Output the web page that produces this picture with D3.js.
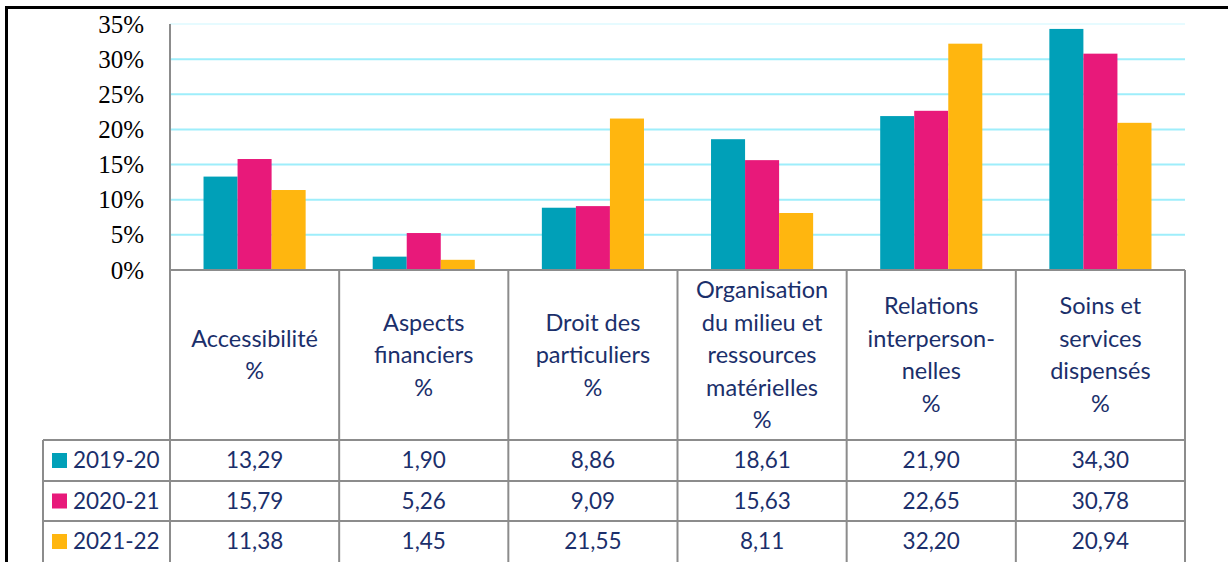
<!DOCTYPE html>
<html>
<head>
<meta charset="utf-8">
<script src="https://cdn.jsdelivr.net/npm/d3@7"></script>
<style>
  body { margin: 0; background: #fff; }
  svg { display: block; }
</style>
</head>
<body>
<div id="chart"></div>
<script>
// Categories (header lines of the data table)
const categories = [
    ["Accessibilité", "%"],
    ["Aspects", "financiers", "%"],
    ["Droit des", "particuliers", "%"],
    ["Organisation", "du milieu et", "ressources", "matérielles", "%"],
    ["Relations", "interperson-", "nelles", "%"],
    ["Soins et", "services", "dispensés", "%"]
];
const seasons = ["2019-20", "2020-21", "2021-22"];
const values2019 = [13.29, 1.90, 8.86, 18.61, 21.90, 34.30];
const values2020 = [15.79, 5.26, 9.09, 15.63, 22.65, 30.78];
const values2021 = [11.38, 1.45, 21.55, 8.11, 32.20, 20.94];
const yTicks = [0, 5, 10, 15, 20, 25, 30, 35];
const seasonColors = ["#00a0b8", "#e8197a", "#ffb60f"];

const series = [values2019, values2020, values2021];

const width = 1228, height = 562;
const plot = { left: 170, right: 1185, top: 24, bottom: 270 };
const rowTops = [440, 481, 521, 562];
const legendLeft = 43;
const textColor = "#1b2f6b";
const lineColor = "#8c8c8c";
const tableFont = "Lato, 'Open Sans', sans-serif";
const tableSize = "22.5px";
const headerSize = "23.5px";

const svg = d3.select("#chart").append("svg")
    .attr("width", width)
    .attr("height", height);

svg.append("rect").attr("width", width).attr("height", height).attr("fill", "#fff");

// Scales
const x = d3.scaleBand()
    .domain(d3.range(categories.length))
    .range([plot.left, plot.right]);

const xs = d3.scaleBand()
    .domain(seasons)
    .range([0, x.bandwidth()])
    .paddingOuter(0.985);

const y = d3.scaleLinear()
    .domain([0, 35])
    .range([plot.bottom, plot.top]);

// Gridlines
svg.append("g")
    .selectAll("line")
    .data(yTicks.filter(t => t > 0))
    .join("line")
    .attr("x1", plot.left)
    .attr("x2", plot.right)
    .attr("y1", d => y(d))
    .attr("y2", d => y(d))
    .attr("stroke", d => d === 35 ? "#e6fbff" : "#9eeefb")
    .attr("stroke-width", 2);

// Y axis labels
const yAxis = svg.append("g")
    .attr("transform", `translate(${plot.left},0)`)
    .call(d3.axisLeft(y).tickValues(yTicks).tickSize(0).tickPadding(26).tickFormat(d => d + "%"));
yAxis.select(".domain").remove();
yAxis.selectAll("text")
    .attr("fill", "#000")
    .attr("font-family", "'Liberation Serif', 'DejaVu Serif', serif")
    .attr("font-size", "25px");

// Bars
svg.append("g")
    .selectAll("g")
    .data(series)
    .join("g")
    .attr("fill", (d, i) => seasonColors[i])
    .each(function(vals, si) {
        d3.select(this).selectAll("rect")
            .data(vals)
            .join("rect")
            .attr("x", (d, ci) => x(ci) + xs(seasons[si]))
            .attr("width", xs.bandwidth())
            .attr("y", d => y(d))
            .attr("height", d => y(0) - y(d));
    });

// Table lines
const lines = svg.append("g").attr("stroke", lineColor).attr("stroke-width", 2);

// axis baseline
lines.append("line")
    .attr("x1", plot.left).attr("x2", plot.right)
    .attr("y1", plot.bottom).attr("y2", plot.bottom);

// value axis line
lines.append("line")
    .attr("x1", plot.left).attr("x2", plot.left)
    .attr("y1", plot.top).attr("y2", height);

// column separators
lines.selectAll(".col")
    .data(d3.range(1, categories.length + 1))
    .join("line")
    .attr("x1", d => x(d - 1) + x.bandwidth())
    .attr("x2", d => x(d - 1) + x.bandwidth())
    .attr("y1", plot.bottom)
    .attr("y2", height);

// row separators
lines.selectAll(".row")
    .data(rowTops.slice(0, 3))
    .join("line")
    .attr("x1", legendLeft).attr("x2", plot.right)
    .attr("y1", d => d).attr("y2", d => d);

lines.append("line")
    .attr("x1", legendLeft).attr("x2", legendLeft)
    .attr("y1", rowTops[0]).attr("y2", height);

// Header text
const headerMid = (plot.bottom + rowTops[0]) / 2;
const lineH = 32.5;
svg.append("g")
    .selectAll("text")
    .data(categories)
    .join("text")
    .attr("text-anchor", "middle")
    .attr("fill", textColor)
    .attr("font-family", tableFont)
    .attr("font-size", headerSize)
    .each(function(lines, ci) {
        const start = headerMid - (lines.length - 1) * lineH / 2;
        d3.select(this).selectAll("tspan")
            .data(lines)
            .join("tspan")
            .attr("x", x(ci) + x.bandwidth() / 2)
            .attr("y", (d, li) => start + li * lineH)
            .attr("dy", "0.35em")
            .text(d => d);
    });

// Data rows
const rows = svg.append("g")
    .selectAll("g")
    .data(series)
    .join("g");

rows.each(function(vals, si) {
    const g = d3.select(this);
    const mid = (rowTops[si] + rowTops[si + 1]) / 2;
    g.append("rect")
        .attr("x", 52).attr("y", mid - 7.5)
        .attr("width", 15).attr("height", 15)
        .attr("fill", seasonColors[si]);
    g.append("text")
        .attr("x", 73).attr("y", mid).attr("dy", "0.35em")
        .attr("fill", textColor)
        .attr("font-family", tableFont)
        .attr("font-size", tableSize)
        .text(seasons[si]);
    g.selectAll(".val")
        .data(vals)
        .join("text")
        .attr("x", (d, ci) => x(ci) + x.bandwidth() / 2)
        .attr("y", mid).attr("dy", "0.35em")
        .attr("text-anchor", "middle")
        .attr("fill", textColor)
        .attr("font-family", tableFont)
        .attr("font-size", tableSize)
        .text(d => d3.format(".2f")(d).replace(".", ","));
});

// Outer frame
svg.append("path")
    .attr("d", `M6.5,${height} V7.5 H${width}`)
    .attr("fill", "none")
    .attr("stroke", "#000")
    .attr("stroke-width", 3);
</script>
</body>
</html>
